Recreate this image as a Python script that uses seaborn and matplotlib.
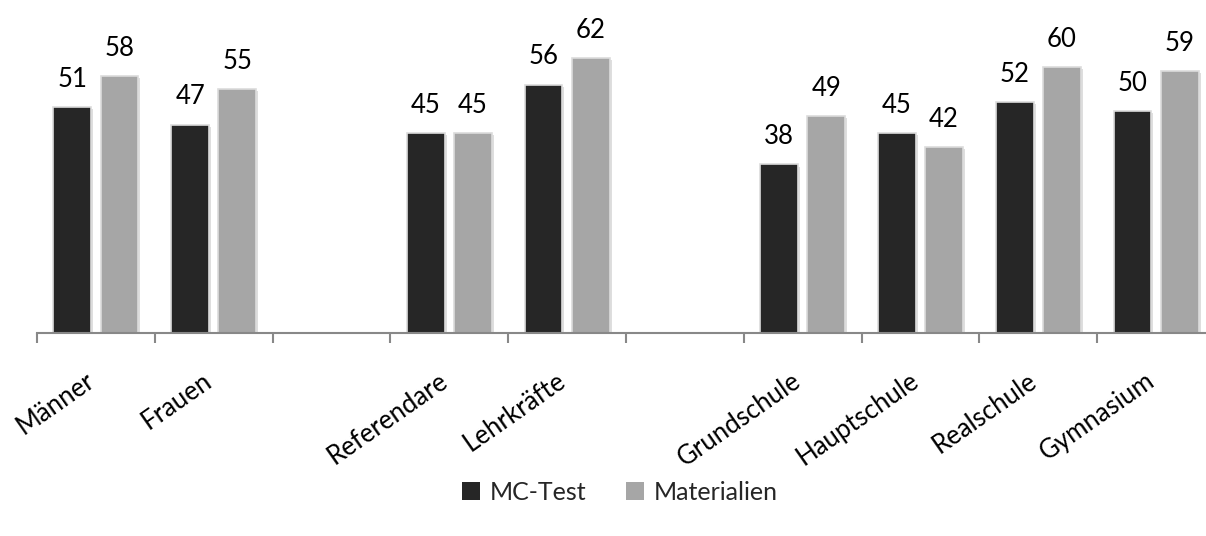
import matplotlib
matplotlib.use("Agg")
import matplotlib.pyplot as plt
import matplotlib.patheffects as pe
from matplotlib.patches import Patch
import numpy as np
import pandas as pd
import seaborn as sns

# Category slots (blank entries keep the gaps between groups)
categories = ["Männer", "Frauen", " ", "Referendare", "Lehrkräfte", "  ",
              "Grundschule", "Hauptschule", "Realschule", "Gymnasium"]
groups = ["Männer", "Frauen", "Referendare", "Lehrkräfte",
          "Grundschule", "Hauptschule", "Realschule", "Gymnasium"]
mc_test = [51, 47, 45, 56, 38, 45, 52, 50]
materialien = [58, 55, 45, 62, 49, 42, 60, 59]
series = ["MC-Test", "Materialien"]
colors = ["#262626", "#a6a6a6"]

df = pd.DataFrame({
    "Gruppe": groups * 2,
    "Wert": mc_test + materialien,
    "Reihe": [series[0]] * len(groups) + [series[1]] * len(groups),
})

sns.set_theme(style="white")
plt.rcParams["font.family"] = ["Lato", "DejaVu Sans"]

fig = plt.figure(figsize=(12.06, 5.36), dpi=100)
ax = fig.add_axes([37 / 1206, 203 / 536, 1178 / 1206, 310.5 / 536])

sns.barplot(data=df, x="Gruppe", y="Wert", hue="Reihe", order=categories,
            hue_order=series, palette=colors, width=0.8, gap=0.2,
            edgecolor="#dcdcdc", linewidth=1.2, legend=False, ax=ax)

for patch in ax.patches:
    patch.set_path_effects([pe.SimplePatchShadow(offset=(1.5, -1.5), shadow_rgbFace="#c8c8c8", alpha=0.6),
                            pe.Normal()])

# value labels above each bar
for cont in ax.containers:
    for bar in cont:
        h = bar.get_height()
        if np.isnan(h):
            continue
        ax.annotate(f"{h:.0f}", (bar.get_x() + bar.get_width() / 2, h),
                    xytext=(0, 14.5), textcoords="offset points",
                    ha="center", va="baseline", fontsize=18.5, color="#000000",
                    annotation_clip=False)

ax.set_xlim(-0.5, 9.5)
ax.set_ylim(0, 70)
ax.set_xlabel("")
ax.set_ylabel("")
ax.set_yticks([])

for side in ["top", "right", "left"]:
    ax.spines[side].set_visible(False)
ax.spines["bottom"].set_color("#888888")
ax.spines["bottom"].set_linewidth(1.5)

# rotated category labels, with tick marks at the slot boundaries
ax.set_xticks(range(len(categories)))
ax.set_xticklabels(categories, rotation=35, ha="right", va="baseline",
                   rotation_mode="anchor", fontsize=18.5, color="#000000")
ax.tick_params(axis="x", which="major", length=0, pad=37)
ax.set_xticks(np.arange(-0.5, 10, 1.0), minor=True)
ax.tick_params(axis="x", which="minor", bottom=True, length=7, width=1.5,
               color="#888888", direction="out")

handles = [Patch(facecolor=c, edgecolor="none") for c in colors]
fig.legend(handles, series, loc="center", bbox_to_anchor=(620 / 1206, 44 / 536),
           ncol=2, frameon=False, fontsize=18, handlelength=0.7, handleheight=0.7,
           handletextpad=0.4, columnspacing=1.6)

fig.savefig("out.png", dpi=100)
